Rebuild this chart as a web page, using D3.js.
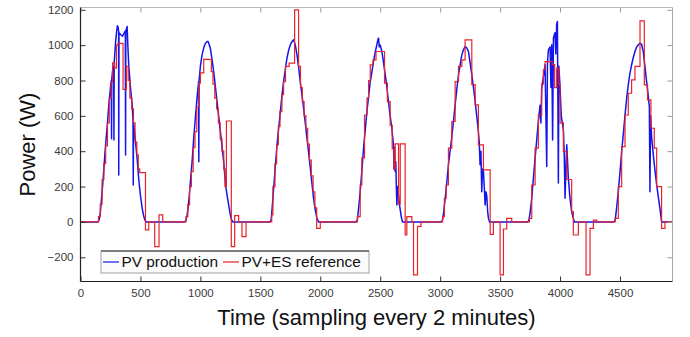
<!DOCTYPE html>
<html><head><meta charset="utf-8">
<script src="https://cdn.jsdelivr.net/npm/d3@7"></script>
<style>body{margin:0;background:#fff}svg{display:block}</style>
</head><body>
<svg id="c" width="690" height="337"></svg>
<script>
const xTicks = [0,500,1000,1500,2000,2500,3000,3500,4000,4500];
const yTicks = [-200,0,200,400,600,800,1000,1200];
const seriesNames = ["PV production","PV+ES reference"];
const xLabel = "Time (sampling every 2 minutes)";
const yLabel = "Power (W)";

// PV production [sample, W]
const pvProduction = [
[0,0],[145,0],[155,10],[165,50],[175,130],[185,210],[195,300],[205,400],[215,480],[225,560],[236,660],[250,760],[257,800],[259,470],[261,810],[270,870],[277,880],[279,464],[281,900],[292,1010],[300,1070],[308,1110],[314,1100],[318,1080],[319,266],[321,1070],[335,1060],[350,1050],[365,1070],[374,1080],[376,379],[378,1080],[389,1105],[396,980],[403,880],[417,760],[431,660],[438,580],[440,209],[442,560],[458,460],[472,360],[486,240],[500,150],[514,80],[525,40],[536,12],[548,0],
[870,0],[880,10],[890,40],[903,115],[917,230],[931,341],[944,470],[958,589],[972,700],[985,794],[987,341],[989,800],[1000,880],[1014,945],[1028,985],[1042,1011],[1056,1020],[1065,1020],[1075,1000],[1083,983],[1097,920],[1111,850],[1125,765],[1139,681],[1153,596],[1167,511],[1181,425],[1194,341],[1204,260],[1214,191],[1225,140],[1236,96],[1247,50],[1258,15],[1270,0],
[1580,0],[1590,10],[1600,90],[1611,191],[1625,310],[1639,436],[1653,530],[1667,624],[1680,710],[1694,794],[1708,860],[1722,926],[1736,970],[1750,1002],[1764,1020],[1778,1030],[1792,1000],[1806,945],[1820,870],[1833,794],[1847,720],[1861,643],[1875,560],[1889,473],[1903,390],[1917,304],[1930,220],[1944,134],[1958,70],[1972,20],[1985,0],
[2300,0],[2310,15],[2320,80],[2333,171],[2347,290],[2361,417],[2375,520],[2389,624],[2403,710],[2417,794],[2431,850],[2444,907],[2458,960],[2472,1002],[2480,1030],[2486,1040],[2492,990],[2500,1000],[2514,964],[2528,900],[2542,832],[2556,760],[2569,681],[2583,600],[2597,530],[2604,480],[2611,436],[2614,300],[2618,420],[2625,285],[2630,340],[2635,180],[2639,96],[2645,200],[2653,147],[2660,100],[2667,70],[2675,30],[2686,0],
[3010,0],[3020,10],[3030,60],[3042,134],[3055,220],[3069,323],[3083,400],[3097,480],[3111,570],[3125,662],[3139,750],[3153,832],[3167,890],[3181,945],[3195,975],[3208,992],[3222,985],[3236,964],[3250,900],[3264,832],[3278,760],[3292,681],[3305,600],[3319,511],[3326,450],[3333,323],[3340,400],[3347,171],[3354,300],[3361,285],[3368,200],[3375,96],[3382,170],[3389,147],[3396,60],[3403,20],[3412,0],
[3730,0],[3740,10],[3750,50],[3764,134],[3778,250],[3792,360],[3805,460],[3819,568],[3833,660],[3840,560],[3847,757],[3861,820],[3875,889],[3889,313],[3895,900],[3903,973],[3917,990],[3924,760],[3931,1002],[3938,464],[3945,1040],[3958,1070],[3965,950],[3972,1120],[3978,1134],[3986,220],[3990,880],[4000,766],[4010,600],[4028,520],[4035,380],[4042,134],[4050,330],[4056,436],[4069,250],[4083,134],[4097,57],[4111,20],[4120,0],
[4450,0],[4460,10],[4472,80],[4486,171],[4500,280],[4514,398],[4528,500],[4542,605],[4556,700],[4569,775],[4583,840],[4597,889],[4611,930],[4625,964],[4639,990],[4653,1002],[4667,1010],[4680,1005],[4694,964],[4708,880],[4722,794],[4736,710],[4745,650],[4750,171],[4755,600],[4764,480],[4778,379],[4792,290],[4806,209],[4820,140],[4833,77],[4847,0],[4940,0]
];

// PV+ES reference, stepwise [start sample, W]
const pvEsReference = [
[0,0],[150,30],[165,100],[180,240],[195,330],[210,430],[225,560],[240,700],[255,790],[268,900],[285,870],[300,1000],[313,1010],[355,750],[383,880],[398,800],[412,700],[428,640],[442,560],[455,450],[470,380],[482,300],[494,279],[542,-45],[569,0],[619,-140],[655,40],[686,0],
[880,30],[895,96],[910,200],[925,285],[940,420],[955,511],[970,650],[985,785],[1000,843],[1028,920],[1092,850],[1105,780],[1120,700],[1135,640],[1150,560],[1165,470],[1180,400],[1195,300],[1205,200],[1217,571],[1258,-140],[1286,36],[1319,0],[1347,-83],[1381,0],
[1595,40],[1605,200],[1622,330],[1636,436],[1650,540],[1664,624],[1680,720],[1694,794],[1710,880],[1740,898],[1786,1200],[1819,880],[1835,760],[1850,681],[1865,600],[1880,530],[1895,440],[1910,350],[1925,260],[1940,170],[1955,80],[1970,-36],[2000,0],
[2310,30],[2333,209],[2347,362],[2369,605],[2390,700],[2403,800],[2417,889],[2440,917],[2465,964],[2536,785],[2560,681],[2583,547],[2600,415],[2614,300],[2625,441],[2653,100],[2667,441],[2708,-74],[2722,30],[2764,0],[2778,-300],[2811,-25],[2840,0],
[3020,30],[3035,134],[3050,209],[3069,417],[3097,568],[3125,794],[3153,880],[3181,917],[3208,1030],[3264,777],[3292,662],[3319,436],[3361,294],[3417,-70],[3444,0],[3500,-300],[3528,-40],[3555,20],[3597,0],
[3745,20],[3764,209],[3792,417],[3819,605],[3847,780],[3861,860],[3875,907],[3935,890],[3955,760],[3972,870],[3990,780],[4000,560],[4028,398],[4056,240],[4097,58],[4111,-74],[4153,0],[4217,-300],[4250,-36],[4278,10],[4306,0],
[4460,20],[4486,200],[4514,426],[4542,605],[4569,728],[4597,804],[4625,880],[4667,1137],[4703,775],[4730,690],[4758,530],[4786,417],[4806,200],[4847,-36],[4875,0],[4940,0]
];

const L=80.5, R=672.5, T=7.5, B=281.5;
const svg = d3.select("#c");
const x = d3.scaleLinear().domain([0,4938]).range([L,R]);
const y = d3.scaleLinear().domain([-337,1213]).range([B,T]);
const font = "'Liberation Sans', Arial, Helvetica, sans-serif";

svg.append("defs").append("clipPath").attr("id","clip")
  .append("rect").attr("x",L).attr("y",T).attr("width",R-L).attr("height",B-T);

const line = d3.line().x(d=>x(d[0])).y(d=>y(d[1]));
const step = d3.line().x(d=>x(d[0])).y(d=>y(d[1])).curve(d3.curveStepAfter);
const g = svg.append("g").attr("clip-path","url(#clip)");
g.append("path").datum(pvProduction).attr("d",line)
  .attr("fill","none").attr("stroke","#1414ec").attr("stroke-width",1.5).attr("stroke-linejoin","round");
g.append("path").datum(pvEsReference).attr("d",step)
  .attr("fill","none").attr("stroke","#e82228").attr("stroke-width",1.2);

// axes
const fmt = d3.format("d");
const ax = (gen, tr, col) => {
  const a = svg.append("g").attr("transform",tr).call(gen);
  a.select(".domain").remove();
  a.selectAll(".tick line").attr("stroke",col);
  a.selectAll(".tick text").attr("fill","#3a3a3a").style("font-family",font).style("font-size","11.5px");
  return a;
};
ax(d3.axisBottom(x).tickValues(xTicks).tickFormat(fmt).tickSize(-5).tickPadding(7), `translate(0,${B})`, "#333");
ax(d3.axisLeft(y).tickValues(yTicks).tickFormat(fmt).tickSize(-5).tickPadding(7), `translate(${L},0)`, "#333");
ax(d3.axisTop(x).tickValues(xTicks).tickSize(-5).tickFormat(""), `translate(0,${T})`, "#999");
ax(d3.axisRight(y).tickValues(yTicks).tickSize(-5).tickFormat(""), `translate(${R},0)`, "#999");

svg.append("line").attr("x1",L).attr("x2",R).attr("y1",T).attr("y2",T).attr("stroke","#b8b8b8");
svg.append("line").attr("x1",R).attr("x2",R).attr("y1",T).attr("y2",B).attr("stroke","#a8a8a8");
svg.append("line").attr("x1",L).attr("x2",R).attr("y1",B).attr("y2",B).attr("stroke","#222").attr("stroke-width",1.2);
svg.append("line").attr("x1",L).attr("x2",L).attr("y1",T).attr("y2",B).attr("stroke","#222").attr("stroke-width",1.2);

// titles
svg.append("text").attr("x",(L+R)/2).attr("y",325).attr("text-anchor","middle")
  .style("font-family",font).style("font-size","22px").attr("fill","#111").text(xLabel);
svg.append("text").attr("transform",`translate(35,${(T+B)/2}) rotate(-90)`).attr("text-anchor","middle")
  .style("font-family",font).style("font-size","22px").attr("fill","#111").text(yLabel);

// legend
const lg = svg.append("g");
lg.append("rect").attr("x",101).attr("y",251).attr("width",268).attr("height",22)
  .attr("fill","#fbfbfb").attr("stroke","#a0a0a0");
lg.append("line").attr("x1",101).attr("x2",369).attr("y1",251).attr("y2",251).attr("stroke","#333").attr("stroke-width",1.2);
const colors = ["#1414ec","#e82228"];
const lx = [103, 223];
seriesNames.forEach((n,i)=>{
  lg.append("line").attr("x1",lx[i]).attr("x2",lx[i]+16).attr("y1",262).attr("y2",262)
    .attr("stroke",colors[i]).attr("stroke-width",1.2);
  lg.append("text").attr("x",lx[i]+18.5).attr("y",267).style("font-family",font).style("font-size","15.4px")
    .attr("fill","#111").text(n);
});
</script>
</body></html>
